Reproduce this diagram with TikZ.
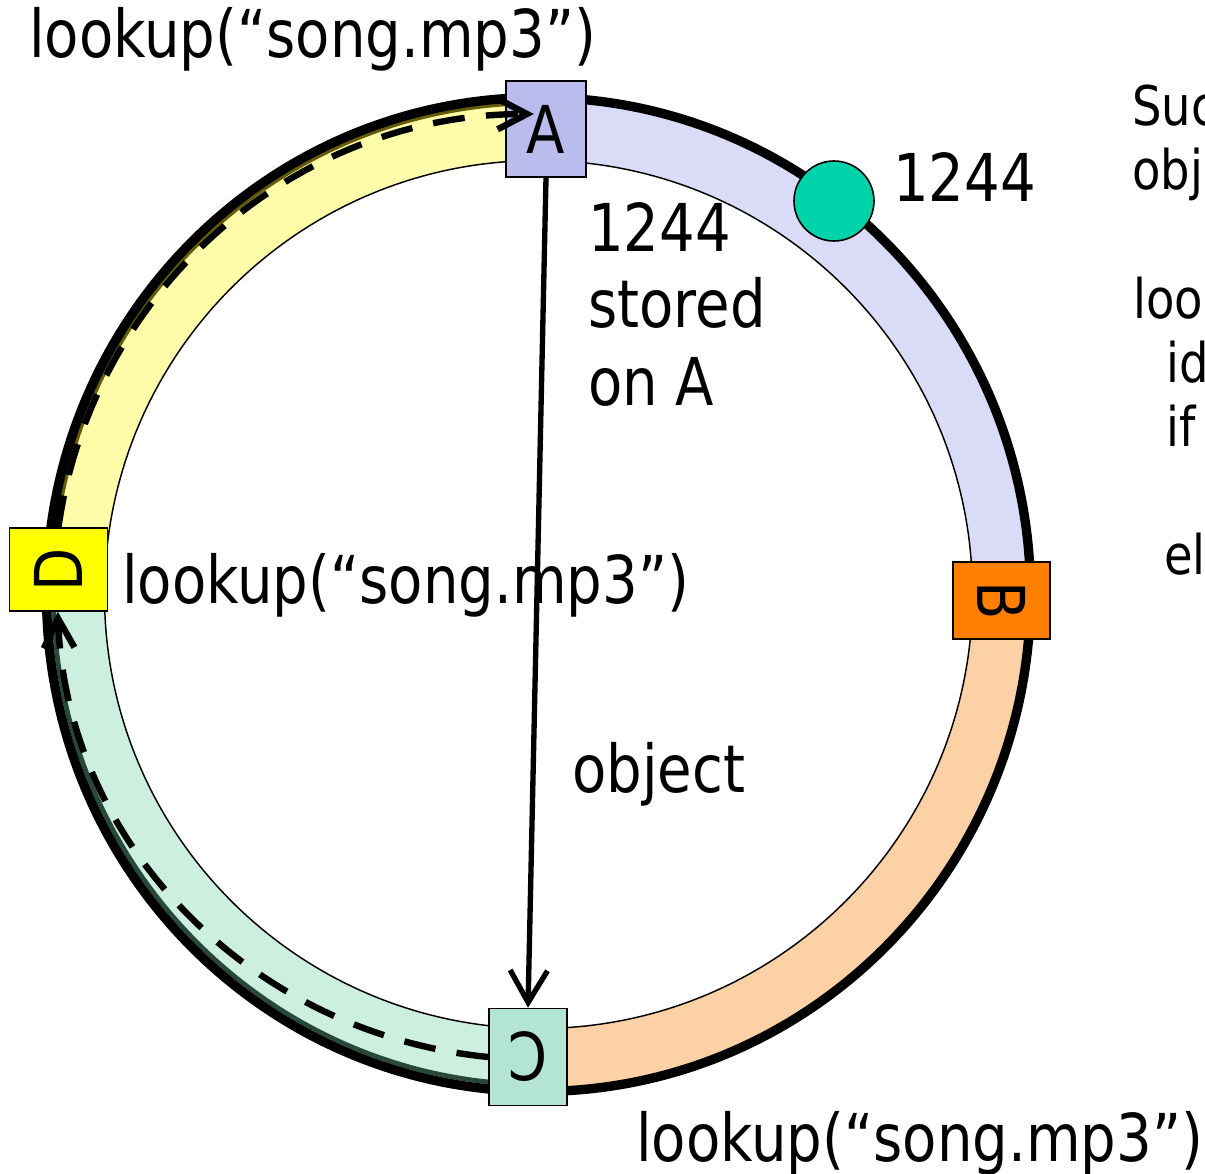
\documentclass[tikz,border=0pt]{standalone}
\usepackage{fontspec}
\setmainfont{DejaVu Sans}[FakeStretch=0.85]
\usetikzlibrary{arrows.meta}
\definecolor{bandAB}{RGB}{218,219,246}
\definecolor{bandBC}{RGB}{253,209,166}
\definecolor{bandCD}{RGB}{204,239,224}
\definecolor{bandDA}{RGB}{255,253,170}
\definecolor{boxA}{RGB}{185,188,236}
\definecolor{boxB}{RGB}{255,127,0}
\definecolor{boxC}{RGB}{179,228,212}
\definecolor{boxD}{RGB}{255,255,0}
\definecolor{dotc}{RGB}{0,210,170}
\definecolor{accCD}{RGB}{40,72,58}
\definecolor{accDA}{RGB}{100,92,10}
\newcommand{\mybig}{\fontsize{49.5pt}{58pt}\selectfont}
\newcommand{\mysmall}{\fontsize{41pt}{48pt}\selectfont}
\begin{document}
\begin{tikzpicture}[x=0.75pt,y=-0.75pt,
  box/.style={draw=black, line width=1.2pt, inner sep=0pt, font=\mybig},
  lbl/.style={anchor=base west, inner sep=0pt, font=\mybig},
  side/.style={anchor=base west, inner sep=0pt, font=\mysmall},
  dashedarrow/.style={line width=4.8pt, dash pattern=on 24pt off 16pt, -{Straight Barb[length=22pt,width=23pt]}},
  solidarrow/.style={line width=4pt, -{Straight Barb[length=24pt,width=28pt]}}]
\clip (0,0) rectangle (1205,1173);
\begin{scope}[shift={(538.5,594.5)}]
  \fill[bandAB] (0,0) -- (270:492 and 497) arc[start angle=270,end angle=360,x radius=492,y radius=497] -- cycle;
  \fill[bandBC] (0,0) -- (0:492 and 497) arc[start angle=0,end angle=90,x radius=492,y radius=497] -- cycle;
  \fill[bandCD] (0,0) -- (90:492 and 497) arc[start angle=90,end angle=180,x radius=492,y radius=497] -- cycle;
  \fill[bandDA] (0,0) -- (180:492 and 497) arc[start angle=180,end angle=270,x radius=492,y radius=497] -- cycle;
  \fill[white] (0,0) circle[radius=434];
  \draw[line width=1.1pt] (0,0) circle[radius=434];
  \draw[accCD, line width=3.5pt] (90:485 and 490) arc[start angle=90,end angle=180,x radius=485,y radius=490];
  \draw[accDA, line width=2.5pt] (180:486 and 491) arc[start angle=180,end angle=270,x radius=486,y radius=491];
  \draw[line width=7pt] (0,0) ellipse[x radius=492, y radius=497];
\end{scope}
\node[circle, draw=black, line width=1.2pt, fill=dotc, minimum size=60pt, inner sep=0pt] (dot) at (834,201) {};
\node[box, fill=boxA, minimum width=60pt, minimum height=72pt] (A) at (546,129) {A};
\node[box, fill=boxB, minimum width=72.75pt, minimum height=57.75pt] (B) at (1001.5,600.5) {\rotatebox{-90}{B}};
\node[box, fill=boxC, minimum width=58.5pt, minimum height=72.75pt] (C) at (528,1057) {\rotatebox{180}{C}};
\node[box, fill=boxD, minimum width=73.5pt, minimum height=62.25pt] (D) at (58.5,569.5) {\rotatebox{90}{D}};
\draw[solidarrow] (A.south) -- (C.north);
\draw[dashedarrow] (D.north) arc[start angle=188,end angle=270,radius=480];
\draw[dashedarrow] (C.west) arc[start angle=95.9,end angle=178,x radius=480,y radius=464];
\node[lbl] (t1) at (29,58) {lookup(“song.mp3”)};
\node[lbl] (t2) at (122,603) {lookup(“song.mp3”)};
\node[lbl] (t3) at (636,1161) {lookup(“song.mp3”)};
\node[lbl] (k1) at (893,202) {1244};
\node[lbl] (s1) at (588,251) {1244};
\node[lbl] (s2) at (588,327) {stored};
\node[lbl] (s3) at (588,405) {on A};
\node[lbl] (obj) at (572,792) {object};
\node[side] (r1) at (1132,126) {Suc};
\node[side] (r2) at (1132,190) {obj};
\node[side] (r3) at (1133,318) {loo};
\node[side] (r4) at (1166,382) {id};
\node[side] (r5) at (1166,446) {if};
\node[side] (r6) at (1164,574) {el};
\end{tikzpicture}
\end{document}
